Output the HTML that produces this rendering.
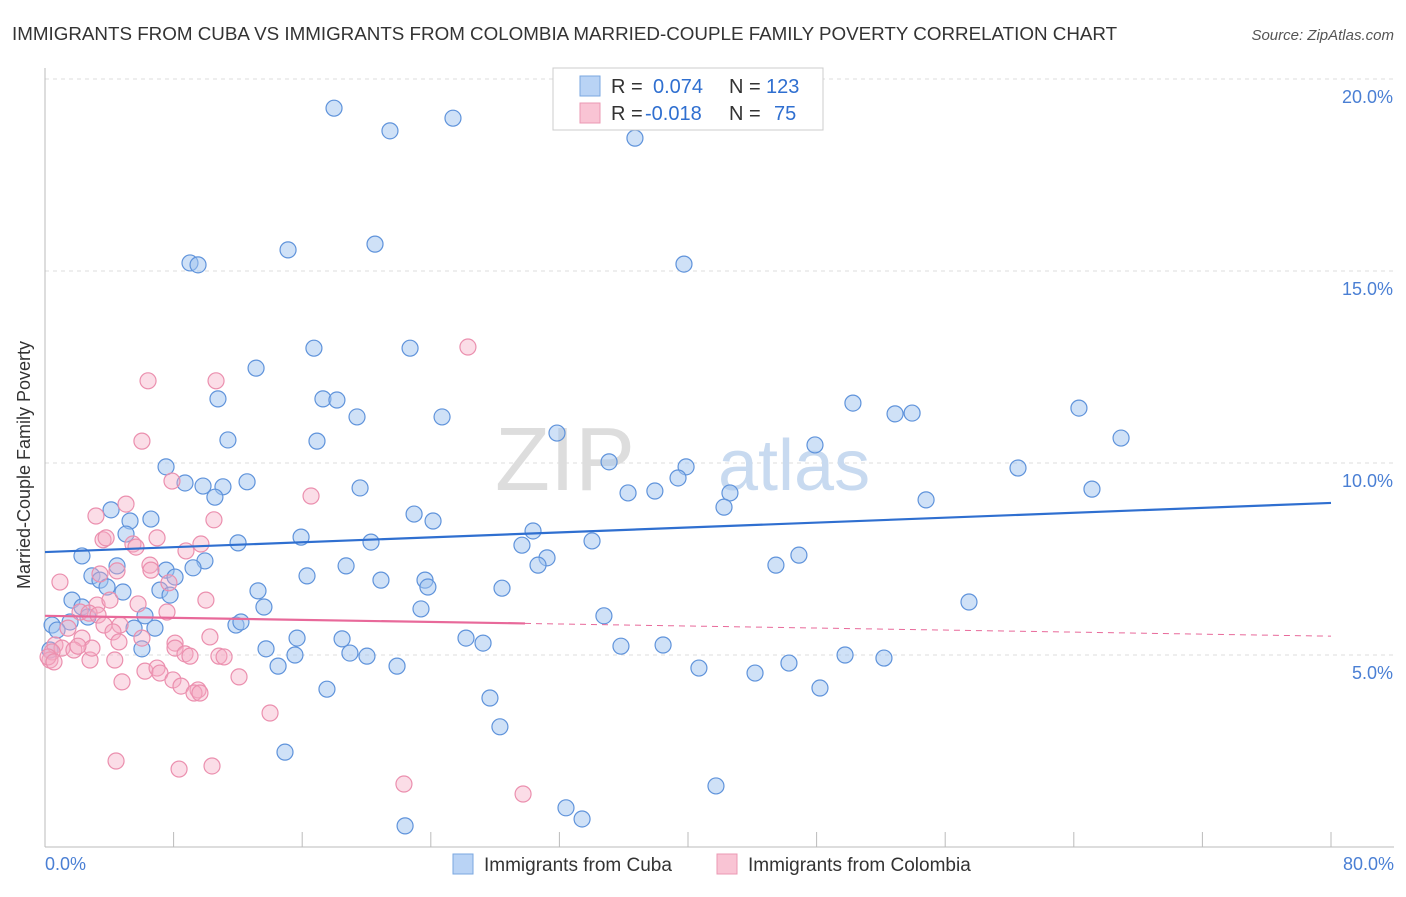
<!DOCTYPE html>
<html><head><meta charset="utf-8"><style>
body{margin:0;background:#fff;font-family:"Liberation Sans",sans-serif;}
svg text{font-family:"Liberation Sans",sans-serif;}
</style></head><body>
<svg width="1406" height="892" viewBox="0 0 1406 892">
<text x="12" y="40" font-size="18.8" fill="#333">IMMIGRANTS FROM CUBA VS IMMIGRANTS FROM COLOMBIA MARRIED-COUPLE FAMILY POVERTY CORRELATION CHART</text>
<text x="1394" y="40" font-size="15" fill="#555" font-style="italic" text-anchor="end">Source: ZipAtlas.com</text>
<g id="grid"></g>
<text x="635" y="490" font-size="90" fill="#ddd" text-anchor="end" font-family="Liberation Serif">ZIP</text>
<text x="718" y="490" font-size="72" fill="#c8daf0">atlas</text>
<g id="pts"></g>
<g id="trend"></g>
<text x="20" y="455" font-size="18" fill="#333" transform="rotate(-90 30 455)" text-anchor="middle">Married-Couple Family Poverty</text>
<text x="45" y="870" font-size="18" fill="#4a7fd4">0.0%</text>
<text x="1394" y="870" font-size="18" fill="#4a7fd4" text-anchor="end">80.0%</text>
<g>
<rect x="553" y="68" width="270" height="62" fill="#fff" stroke="#ccc"/>
<rect x="580" y="76" width="20" height="20" fill="#b9d3f5" stroke="#7aa7e0"/>
<rect x="580" y="103" width="20" height="20" fill="#f9c4d4" stroke="#eb98b3"/>
<text x="611" y="93" font-size="20" fill="#333">R =</text>
<text x="653" y="93" font-size="20" fill="#2f6fd0">0.074</text>
<text x="729" y="93" font-size="20" fill="#333">N =</text>
<text x="766" y="93" font-size="20" fill="#2f6fd0">123</text>
<text x="611" y="120" font-size="20" fill="#333">R =</text>
<text x="645" y="120" font-size="20" fill="#2f6fd0">-0.018</text>
<text x="729" y="120" font-size="20" fill="#333">N =</text>
<text x="774" y="120" font-size="20" fill="#2f6fd0">75</text>
</g>
<g>
<rect x="453" y="854" width="20" height="20" fill="#b9d3f5" stroke="#7aa7e0"/>
<text x="484" y="871" font-size="19" fill="#333">Immigrants from Cuba</text>
<rect x="717" y="854" width="20" height="20" fill="#f9c4d4" stroke="#eb98b3"/>
<text x="748" y="871" font-size="19" fill="#333">Immigrants from Colombia</text>
</g>
</svg>
<script>
const yTicks=[5,10,15,20];
const yTickLabels=["5.0%","10.0%","15.0%","20.0%"];
const xTicks=[0,8,16,24,32,40,48,56,64,72,80];
const cubaX=[17.98,21.46,25.38,36.70,9.02,9.52,15.12,20.53,39.75,13.13,16.73,22.71,10.76,17.29,18.16,19.41,24.70,11.38,16.92,31.85,35.09,39.88,39.38,47.90,50.26,52.88,53.94,64.32,66.94,60.53,65.13,54.81,42.61,42.24,36.27,37.94,7.53,8.71,9.83,11.07,10.57,12.57,19.60,22.96,24.14,4.11,5.29,6.59,5.04,12.01,15.93,20.28,30.36,29.67,34.03,31.23,30.67,45.47,46.90,2.30,4.48,7.53,9.95,9.21,8.09,2.92,3.42,3.86,4.85,7.15,7.78,6.22,6.84,5.54,11.88,12.19,13.25,13.62,16.30,18.73,20.90,23.64,23.82,28.43,23.39,34.77,57.48,1.68,2.30,2.67,1.56,0.44,0.75,0.31,6.03,13.75,15.68,15.55,14.50,18.48,18.97,20.03,21.90,26.19,27.25,35.83,38.45,40.68,44.17,46.28,49.77,52.19,17.54,27.68,28.30,48.21,14.93,41.74,32.41,33.41,22.40];
const cubaY=[19.24,18.65,18.98,18.46,15.21,15.16,15.55,15.70,15.18,12.47,12.99,12.99,11.67,11.67,11.64,11.20,11.20,10.60,10.57,10.78,10.03,9.90,9.61,10.47,11.56,11.28,11.30,11.43,10.65,9.87,9.32,9.04,9.22,8.85,9.22,9.27,9.90,9.48,9.40,9.38,9.11,9.51,9.35,8.67,8.49,8.78,8.49,8.54,8.15,7.92,8.07,7.94,8.23,7.86,7.97,7.53,7.34,7.34,7.60,7.58,7.32,7.21,7.45,7.27,7.03,7.06,6.95,6.77,6.64,6.69,6.56,6.02,5.70,5.70,5.78,5.86,6.67,6.25,7.06,7.32,6.95,6.95,6.77,6.74,6.20,6.02,6.38,6.43,6.25,5.99,5.86,5.78,5.65,5.13,5.16,5.16,5.44,5.00,4.71,5.42,5.05,4.97,4.71,5.44,5.31,5.23,5.26,4.66,4.53,4.79,5.00,4.92,4.11,3.88,3.13,4.14,2.47,1.59,1.02,0.73,0.55];
const colX=[26.31,6.41,10.64,6.03,16.55,7.90,5.04,3.17,10.51,3.61,3.80,5.47,6.97,9.70,5.66,8.77,0.93,3.42,4.48,6.53,6.59,7.71,10.01,3.24,2.18,4.04,2.74,3.30,5.79,7.59,1.43,3.67,4.67,4.23,10.26,2.30,6.03,8.09,4.60,8.09,8.71,0.62,1.06,0.44,0.31,0.19,1.80,2.80,2.92,2.05,4.34,9.02,10.82,11.14,6.22,6.97,7.15,7.96,8.46,9.52,9.27,9.64,4.79,12.07,14.00,4.42,8.34,10.39,22.33,29.74,0.56];
const colY=[13.02,12.14,12.14,10.57,9.14,9.53,8.93,8.62,8.52,8.00,8.05,7.89,8.05,7.89,7.81,7.71,6.90,7.11,7.19,7.34,7.21,6.88,6.43,6.30,6.12,6.43,6.09,6.04,6.33,6.12,5.70,5.78,5.78,5.60,5.47,5.44,5.44,5.31,5.34,5.18,5.03,5.26,5.18,5.08,4.87,4.95,5.13,4.87,5.18,5.23,4.87,4.97,4.97,4.95,4.58,4.66,4.53,4.35,4.19,4.09,4.01,4.01,4.30,4.43,3.49,2.24,2.03,2.11,1.64,1.38,4.82];
const cubaTrend=[7.68,8.96];
const colTrend=[6.02,5.49];
const colSolidEnd=29.86;
const X=v=>45+v*(1331-45)/80;
const Y=v=>847-v*38.4;
const NS="http://www.w3.org/2000/svg";
function mk(t,a,p){const e=document.createElementNS(NS,t);for(const k in a)e.setAttribute(k,a[k]);p.appendChild(e);return e;}
const g=document.getElementById('grid');
yTicks.forEach((t,i)=>{
 const l=mk('line',{x1:45,x2:1394,y1:Y(t),y2:Y(t),stroke:'#ddd','stroke-dasharray':'4 4'},g);
 
 
 const tx=mk('text',{x:1393,y:Y(t)+24,'font-size':18,fill:'#4a7fd4','text-anchor':'end'},g);
 tx.textContent=yTickLabels[i];
 
 
});
const ax=mk('line',{x1:45,x2:1394,y1:847,y2:847,stroke:'#bbb'},g);


const ay=mk('line',{x1:45,x2:45,y1:68,y2:847,stroke:'#bbb'},g);


xTicks.forEach(t=>{
 const l=mk('line',{x1:X(t),x2:X(t),y1:832,y2:847,stroke:'#bbb'},g);
 
 
});
const p=document.getElementById('pts');
cubaX.forEach((v,i)=>{
 const c=mk('circle',{cx:X(v),cy:Y(cubaY[i]),r:8,fill:'rgba(160,196,240,0.5)',stroke:'#5f93db','stroke-width':1.2},p);
 
 
});
colX.forEach((v,i)=>{
 const c=mk('circle',{cx:X(v),cy:Y(colY[i]),r:8,fill:'rgba(245,170,195,0.4)',stroke:'#eb8fae','stroke-width':1.2},p);
 
 
});
const tr=document.getElementById('trend');
const bl=mk('line',{x1:X(0),y1:Y(cubaTrend[0]),x2:X(80),y2:Y(cubaTrend[1]),stroke:'#2f6fd0','stroke-width':2.2},tr);


const cy=x=>colTrend[0]+(colTrend[1]-colTrend[0])*x/80;
const pl=mk('line',{x1:X(0),y1:Y(cy(0)),x2:X(colSolidEnd),y2:Y(cy(colSolidEnd)),stroke:'#e8699a','stroke-width':2.2},tr);


const pd=mk('line',{x1:X(colSolidEnd),y1:Y(cy(colSolidEnd)),x2:X(80),y2:Y(cy(80)),stroke:'#e8699a','stroke-width':1,'stroke-dasharray':'6 5'},tr);


</script>
</body></html>
